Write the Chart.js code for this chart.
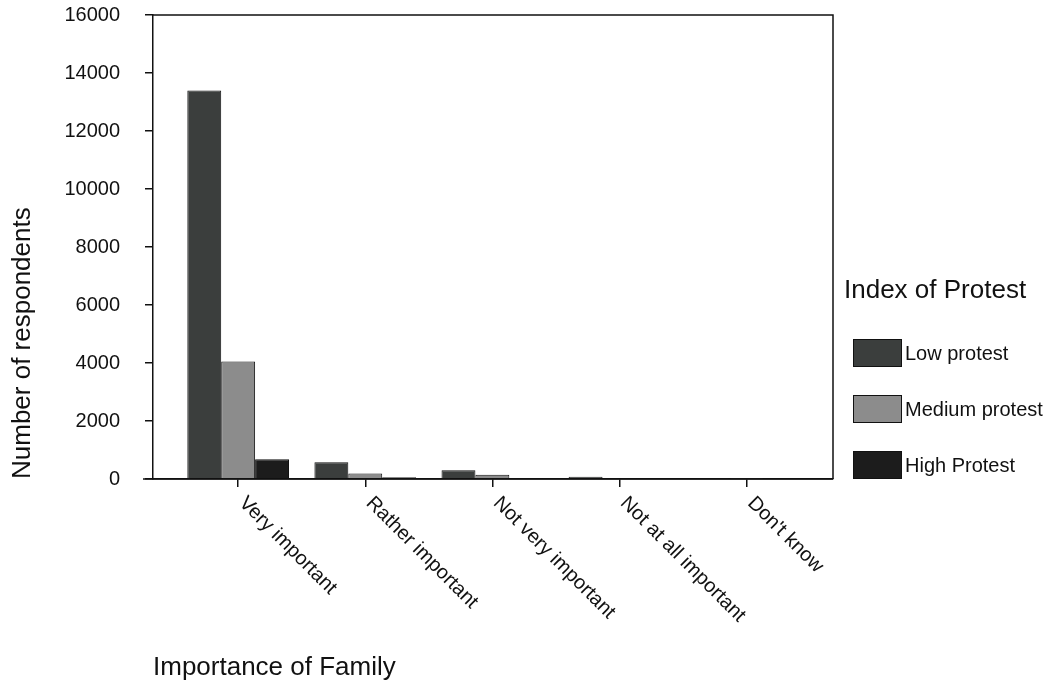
<!DOCTYPE html>
<html>
<head>
<meta charset="utf-8">
<script src="https://cdn.jsdelivr.net/npm/chart.js@4/dist/chart.umd.min.js"></script>
<style>
  html, body { margin: 0; padding: 0; background: #ffffff; }
  #wrap { position: relative; width: 1053px; height: 685px; }
</style>
</head>
<body>
<div id="wrap"><canvas id="c" width="1053" height="685"></canvas></div>
<script>
// ---- Data ----
const categories = ["Very important", "Rather important", "Not very important", "Not at all important", "Don't know"];
const seriesNames = ["Low protest", "Medium protest", "High Protest"];
const lowProtest = [13400, 580, 300, 80, 10];
const mediumProtest = [4050, 190, 150, 20, 4];
const highProtest = [680, 60, 15, 5, 2];
const yTicks = [0, 2000, 4000, 6000, 8000, 10000, 12000, 14000, 16000];
const xTitle = "Importance of Family";
const yTitle = "Number of respondents";
const legendTitle = "Index of Protest";

// ---- Styles ----
const FONT = "'Liberation Sans', Arial, Helvetica, sans-serif";
const TXT = '#111111';
const colors = ['#3b3e3d', '#8c8c8c', '#1c1c1c'];

const toPoints = arr => arr.map((v, i) => ({ x: i, y: v }));
const seriesValues = [lowProtest, mediumProtest, highProtest];

const datasets = seriesNames.map((name, k) => ({
  label: name,
  data: toPoints(seriesValues[k]),
  backgroundColor: colors[k],
  borderColor: '#111111',
  borderWidth: 1,
  categoryPercentage: 0.8,
  barPercentage: 1.0
}));

const framePlugin = {
  id: 'frame',
  afterDatasetsDraw(chart) {
    const { ctx, chartArea: a } = chart;
    ctx.save();
    ctx.strokeStyle = '#111111';
    ctx.lineWidth = 1.5;
    ctx.beginPath();
    ctx.moveTo(a.left, a.top);
    ctx.lineTo(a.right, a.top);
    ctx.lineTo(a.right, a.bottom);
    ctx.moveTo(a.left - 10, a.bottom);
    ctx.lineTo(a.right, a.bottom);
    ctx.stroke();
    ctx.restore();
  },
  afterDraw(chart) {
    const { ctx, chartArea: a } = chart;
    const xs = chart.scales.x;
    ctx.save();
    // rotated category labels
    ctx.fillStyle = TXT;
    ctx.font = '20px ' + FONT;
    ctx.textAlign = 'left';
    ctx.textBaseline = 'middle';
    categories.forEach((lab, i) => {
      const px = xs.getPixelForValue(i);
      ctx.save();
      ctx.translate(px + 4, a.bottom + 21);
      ctx.rotate(Math.PI / 4);
      ctx.fillText(lab, 0, 0);
      ctx.restore();
    });
    // legend
    ctx.font = '26px ' + FONT;
    ctx.fillText(legendTitle, 844, 291);
    ctx.font = '20px ' + FONT;
    chart.data.datasets.forEach((ds, k) => {
      const cy = 353 + k * 56;
      ctx.fillStyle = ds.backgroundColor;
      ctx.fillRect(853, cy - 14, 49, 28);
      ctx.strokeStyle = '#111111';
      ctx.lineWidth = 1;
      ctx.strokeRect(853.5, cy - 13.5, 48, 27);
      ctx.fillStyle = TXT;
      ctx.fillText(ds.label, 905, cy + 1);
    });
    ctx.restore();
  }
};

new Chart(document.getElementById('c'), {
  type: 'bar',
  data: { datasets },
  options: {
    responsive: false,
    animation: false,
    devicePixelRatio: 1,
    layout: { padding: { left: 7, right: 220, top: 15, bottom: 2 } },
    plugins: { legend: { display: false }, tooltip: { enabled: false } },
    scales: {
      x: {
        type: 'linear',
        offset: false,
        min: -0.67,
        max: 4.68,
        afterBuildTicks: s => { s.ticks = categories.map((c, i) => ({ value: i })); },
        afterFit: s => { s.height = 204; },
        ticks: { display: false },
        grid: { display: true, offset: false, drawOnChartArea: false, drawTicks: true, tickLength: 8, color: '#111111', lineWidth: 1.5 },
        border: { display: true, color: '#111111', width: 1.5 },
        title: {
          display: true, text: xTitle, align: 'start', color: TXT,
          font: { family: FONT, size: 26 }, padding: { top: 0, bottom: 0 }
        }
      },
      y: {
        min: 0,
        max: 16000,
        afterBuildTicks: s => { s.ticks = yTicks.map(v => ({ value: v })); },
        afterFit: s => { s.width = 146; s.paddingTop = 12; s.paddingBottom = 12; },
        ticks: {
          color: TXT, padding: 25,
          font: { family: FONT, size: 20 },
          callback: v => String(v)
        },
        grid: { display: true, drawOnChartArea: false, drawTicks: true, tickLength: 8, color: '#111111', lineWidth: 1.5 },
        border: { display: true, color: '#111111', width: 1.5 },
        title: {
          display: true, text: yTitle, align: 'start', color: TXT,
          font: { family: FONT, size: 26 }, padding: { top: 0, bottom: 0 }
        }
      }
    }
  },
  plugins: [framePlugin]
});
</script>
</body>
</html>
